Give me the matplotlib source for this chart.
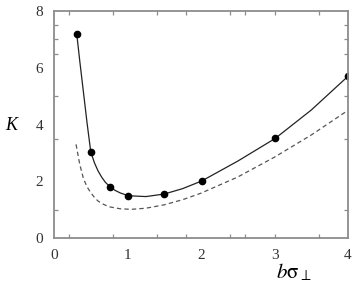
import matplotlib
matplotlib.use("Agg")
import matplotlib.pyplot as plt

# values
x_pts = [0.31, 0.50, 0.76, 1.01, 1.50, 2.01, 3.01, 4.0]
k_pts = [7.18, 3.04, 1.81, 1.49, 1.55, 2.01, 3.51, 5.70]

x_solid = [0.31, 0.35, 0.40, 0.45, 0.50, 0.55, 0.60, 0.65, 0.70, 0.76, 0.83, 0.90, 1.01,
           1.25, 1.50, 1.75, 2.01, 2.50, 3.01, 3.50, 4.0]
k_solid = [7.18, 6.25, 5.15, 4.05, 3.04, 2.65, 2.36, 2.14, 1.96, 1.81, 1.68, 1.59, 1.49,
           1.46, 1.55, 1.74, 2.01, 2.71, 3.51, 4.51, 5.70]

x_dash = [0.30, 0.35, 0.40, 0.45, 0.50, 0.55, 0.60, 0.67, 0.75, 0.90, 1.05, 1.25, 1.50,
          1.75, 2.00, 2.50, 3.00, 3.50, 4.0]
k_dash = [3.30, 2.60, 2.10, 1.80, 1.60, 1.43, 1.30, 1.19, 1.10, 1.03, 1.01, 1.05, 1.17,
          1.35, 1.58, 2.15, 2.85, 3.63, 4.50]

x_labels = [0, 1, 2, 3, 4]
y_labels = [0, 2, 4, 6, 8]
x_marks = [0.2, 0.8, 1.4, 1.8, 2.4, 2.6, 3.0, 3.6]
y_marks = [1.0, 3.5, 5.0, 6.5, 7.0, 7.5]

plt.rcParams['font.family'] = 'Liberation Serif'
plt.rcParams['mathtext.fontset'] = 'stix'

fig = plt.figure(figsize=(3.6, 2.88), dpi=100)
ax = fig.add_axes([0.15, 0.1736, 0.8167, 0.7882])

ax.plot(x_dash, k_dash, color='#555555', lw=0.9, ls=(0, (3.5, 2.5)))
ax.plot(x_solid, k_solid, color='#222222', lw=0.9)
ax.plot(x_pts, k_pts, 'o', color='black', ms=4.5)

ax.set_xlim(0, 4)
ax.set_ylim(0, 8)

gray = '#8c8c8c'
for s in ax.spines.values():
    s.set_color(gray)
    s.set_linewidth(1.3)

ax.set_xticks(x_labels)
ax.set_yticks(y_labels)
ax.set_xticks(x_marks, minor=True)
ax.set_yticks(y_marks, minor=True)
ax.xaxis.remove_overlapping_locs = False
ax.yaxis.remove_overlapping_locs = False
ax.tick_params(which='major', length=0, labelsize=11, labelcolor='#333333')
ax.tick_params(axis='x', which='major', pad=8)
ax.tick_params(axis='y', which='major', pad=8)
ax.tick_params(which='minor', direction='in', length=3, width=0.9, color=gray,
               top=True, right=True)

fig.text(0.03, 0.565, 'K', fontsize=13, style='italic', ha='center', va='center')
fig.text(0.815, 0.055, r'$b\mathrm{\sigma}_{\perp}$', fontsize=15, ha='center', va='center')

fig.savefig('out.png', dpi=100)
